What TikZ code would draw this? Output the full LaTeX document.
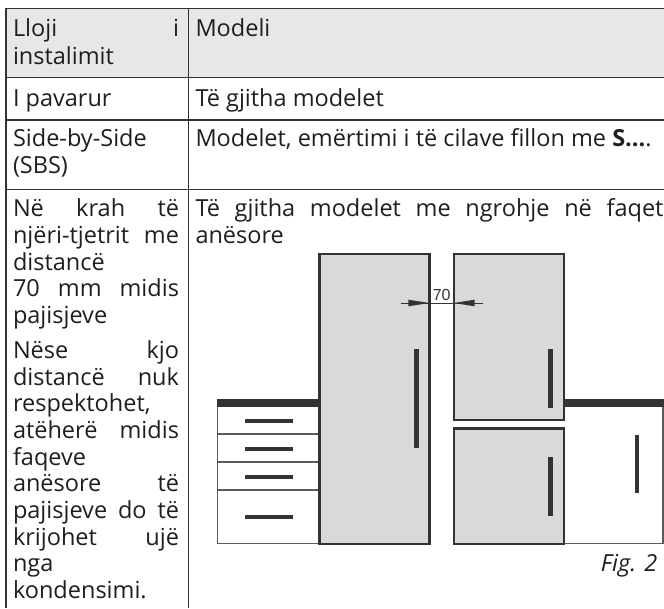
\documentclass[tikz,border=0pt]{standalone}
\usepackage{fontspec}
\setmainfont{Open Sans}
\newfontfamily\dimfont{Liberation Sans}
\definecolor{ink}{HTML}{1E1E1E}
\definecolor{rulec}{HTML}{333333}
\definecolor{hdr}{HTML}{E6E7E9}
\definecolor{frfill}{HTML}{D9D9D9}
\definecolor{frline}{HTML}{333333}
\definecolor{cabline}{HTML}{5A5A5A}
\newcommand{\lineL}[1]{\makebox[166pt][l]{#1}}
\newcommand{\lineR}[1]{\makebox[468pt][l]{#1}}
\begin{document}
\begin{tikzpicture}[x=1pt,y=-1pt,
  txt/.style={anchor=base west, inner sep=0pt, outer sep=0pt, text=ink, font=\fontsize{23.5}{23.5}\selectfont},
  tabrule/.style={draw=rulec, line width=1.2pt},
  fridge/.style={fill=frfill, draw=frline, line width=2.4pt},
  handle/.style={fill=frline, draw=none},
  cab/.style={draw=cabline, line width=1.4pt},
  dimline/.style={draw=frline, line width=0.9pt},
  dimtxt/.style={anchor=base, inner sep=0pt, text=rulec, font=\dimfont\fontsize{16}{16}\selectfont},
  figtxt/.style={anchor=base east, inner sep=0pt, text=ink, font=\itshape\fontsize{23.5}{23.5}\selectfont}]
\useasboundingbox (0,0) rectangle (664,608);
% table
\fill[hdr] (6,8.3) rectangle (664,77.3);
\draw[tabrule] (664,8.3) -- (6,8.3) -- (6,608);
\draw[tabrule] (188.2,8.3) -- (188.2,608);
\draw[tabrule] (6,77.3) -- (664,77.3);
\draw[tabrule] (6,120) -- (664,120);
\draw[tabrule] (6,189.3) -- (664,189.3);
% header
\node[txt] (h1) at (13,36.9) {\lineL{Lloji\hfill i}};
\node[txt] (h2) at (13,64) {instalimit};
\node[txt] (h3) at (195.5,36.9) {Modeli};
% row 2
\node[txt] (r2a) at (13,106) {I pavarur};
\node[txt] (r2b) at (195.5,106) {Të gjitha modelet};
% row 3
\node[txt] (r3a) at (13,146.7) {Side-by-Side};
\node[txt] (r3b) at (13,173.3) {(SBS)};
\node[txt] (r3c) at (195.5,146.7) {Modelet, emërtimi i të cilave fillon me \textbf{S...}.};
% row 4 left
\node[txt] (l1) at (13,216.7) {\lineL{Në\hfill krah\hfill të}};
\node[txt] (l2) at (13,243.3) {\lineL{njëri-tjetrit\hfill me}};
\node[txt] (l3) at (13,270) {distancë};
\node[txt] (l4) at (13,296.7) {\lineL{70\hfill mm\hfill midis}};
\node[txt] (l5) at (13,323.3) {pajisjeve};
\node[txt] (l6) at (13,358.3) {\lineL{Nëse\hfill kjo}};
\node[txt] (l7) at (13,385) {\lineL{distancë\hfill nuk}};
\node[txt] (l8) at (13,411.7) {respektohet,};
\node[txt] (l9) at (13,438.3) {\lineL{atëherë\hfill midis}};
\node[txt] (l10) at (13,465) {faqeve};
\node[txt] (l11) at (13,491.7) {\lineL{anësore\hfill të}};
\node[txt] (l12) at (13,518.3) {\lineL{pajisjeve\hfill do\hfill të}};
\node[txt] (l13) at (13,545) {\lineL{krijohet\hfill ujë}};
\node[txt] (l14) at (13,571.7) {nga};
\node[txt] (l15) at (13,598.3) {kondensimi.};
% row 4 right
\node[txt] (m1) at (195.5,216.7) {\lineR{Të\hfill gjitha\hfill modelet\hfill me\hfill ngrohje\hfill në\hfill faqet}};
\node[txt] (m2) at (195.5,243.3) {anësore};
% figure: counters
\fill[frline] (216.7,398.7) rectangle (320,406.7);
\fill[frline] (563.8,398.7) rectangle (664,406.7);
\draw[cab] (217.7,406.7) -- (217.7,543.7) -- (319.5,543.7);
\draw[cab] (217.7,434) -- (319.5,434);
\draw[cab] (217.7,462) -- (319.5,462);
\draw[cab] (217.7,490) -- (319.5,490);
\draw[cab] (563.8,543.7) -- (663,543.7) -- (663,406.7);
\fill[handle] (245,418.7) rectangle (293.3,422.7);
\fill[handle] (245,446.7) rectangle (293.3,450.7);
\fill[handle] (245,474.7) rectangle (293.3,478.7);
\fill[handle] (245,515.3) rectangle (293.3,519.3);
\fill[handle] (634.7,434.7) rectangle (639.3,493.3);
% fridges
\filldraw[fridge] (319.5,253.8) rectangle (429.5,543.8);
\filldraw[fridge] (453.8,253.8) rectangle (563.8,419.8);
\filldraw[fridge] (453.8,428.5) rectangle (563.8,543.8);
\fill[handle] (414,349.3) rectangle (419,448.3);
\fill[handle] (547.7,349.3) rectangle (552.7,408.3);
\fill[handle] (547.7,457.3) rectangle (552.7,516);
% dimension
\coordinate (dl) at (400.7,303);
\coordinate (dr) at (483.3,303);
\coordinate (tipl) at (429.5,303);
\coordinate (tipr) at (453.8,303);
\draw[dimline] (dl) -- (dr);
\fill[frline] (tipl) -- (408.3,299.7) -- (408.3,306.3) -- cycle;
\fill[frline] (tipr) -- (474.5,299.7) -- (474.5,306.3) -- cycle;
\node[dimtxt] (d70) at (441.7,300.7) {70};
\node[figtxt] (fig) at (657.5,571.7) {Fig. 2};
\end{tikzpicture}
\end{document}
